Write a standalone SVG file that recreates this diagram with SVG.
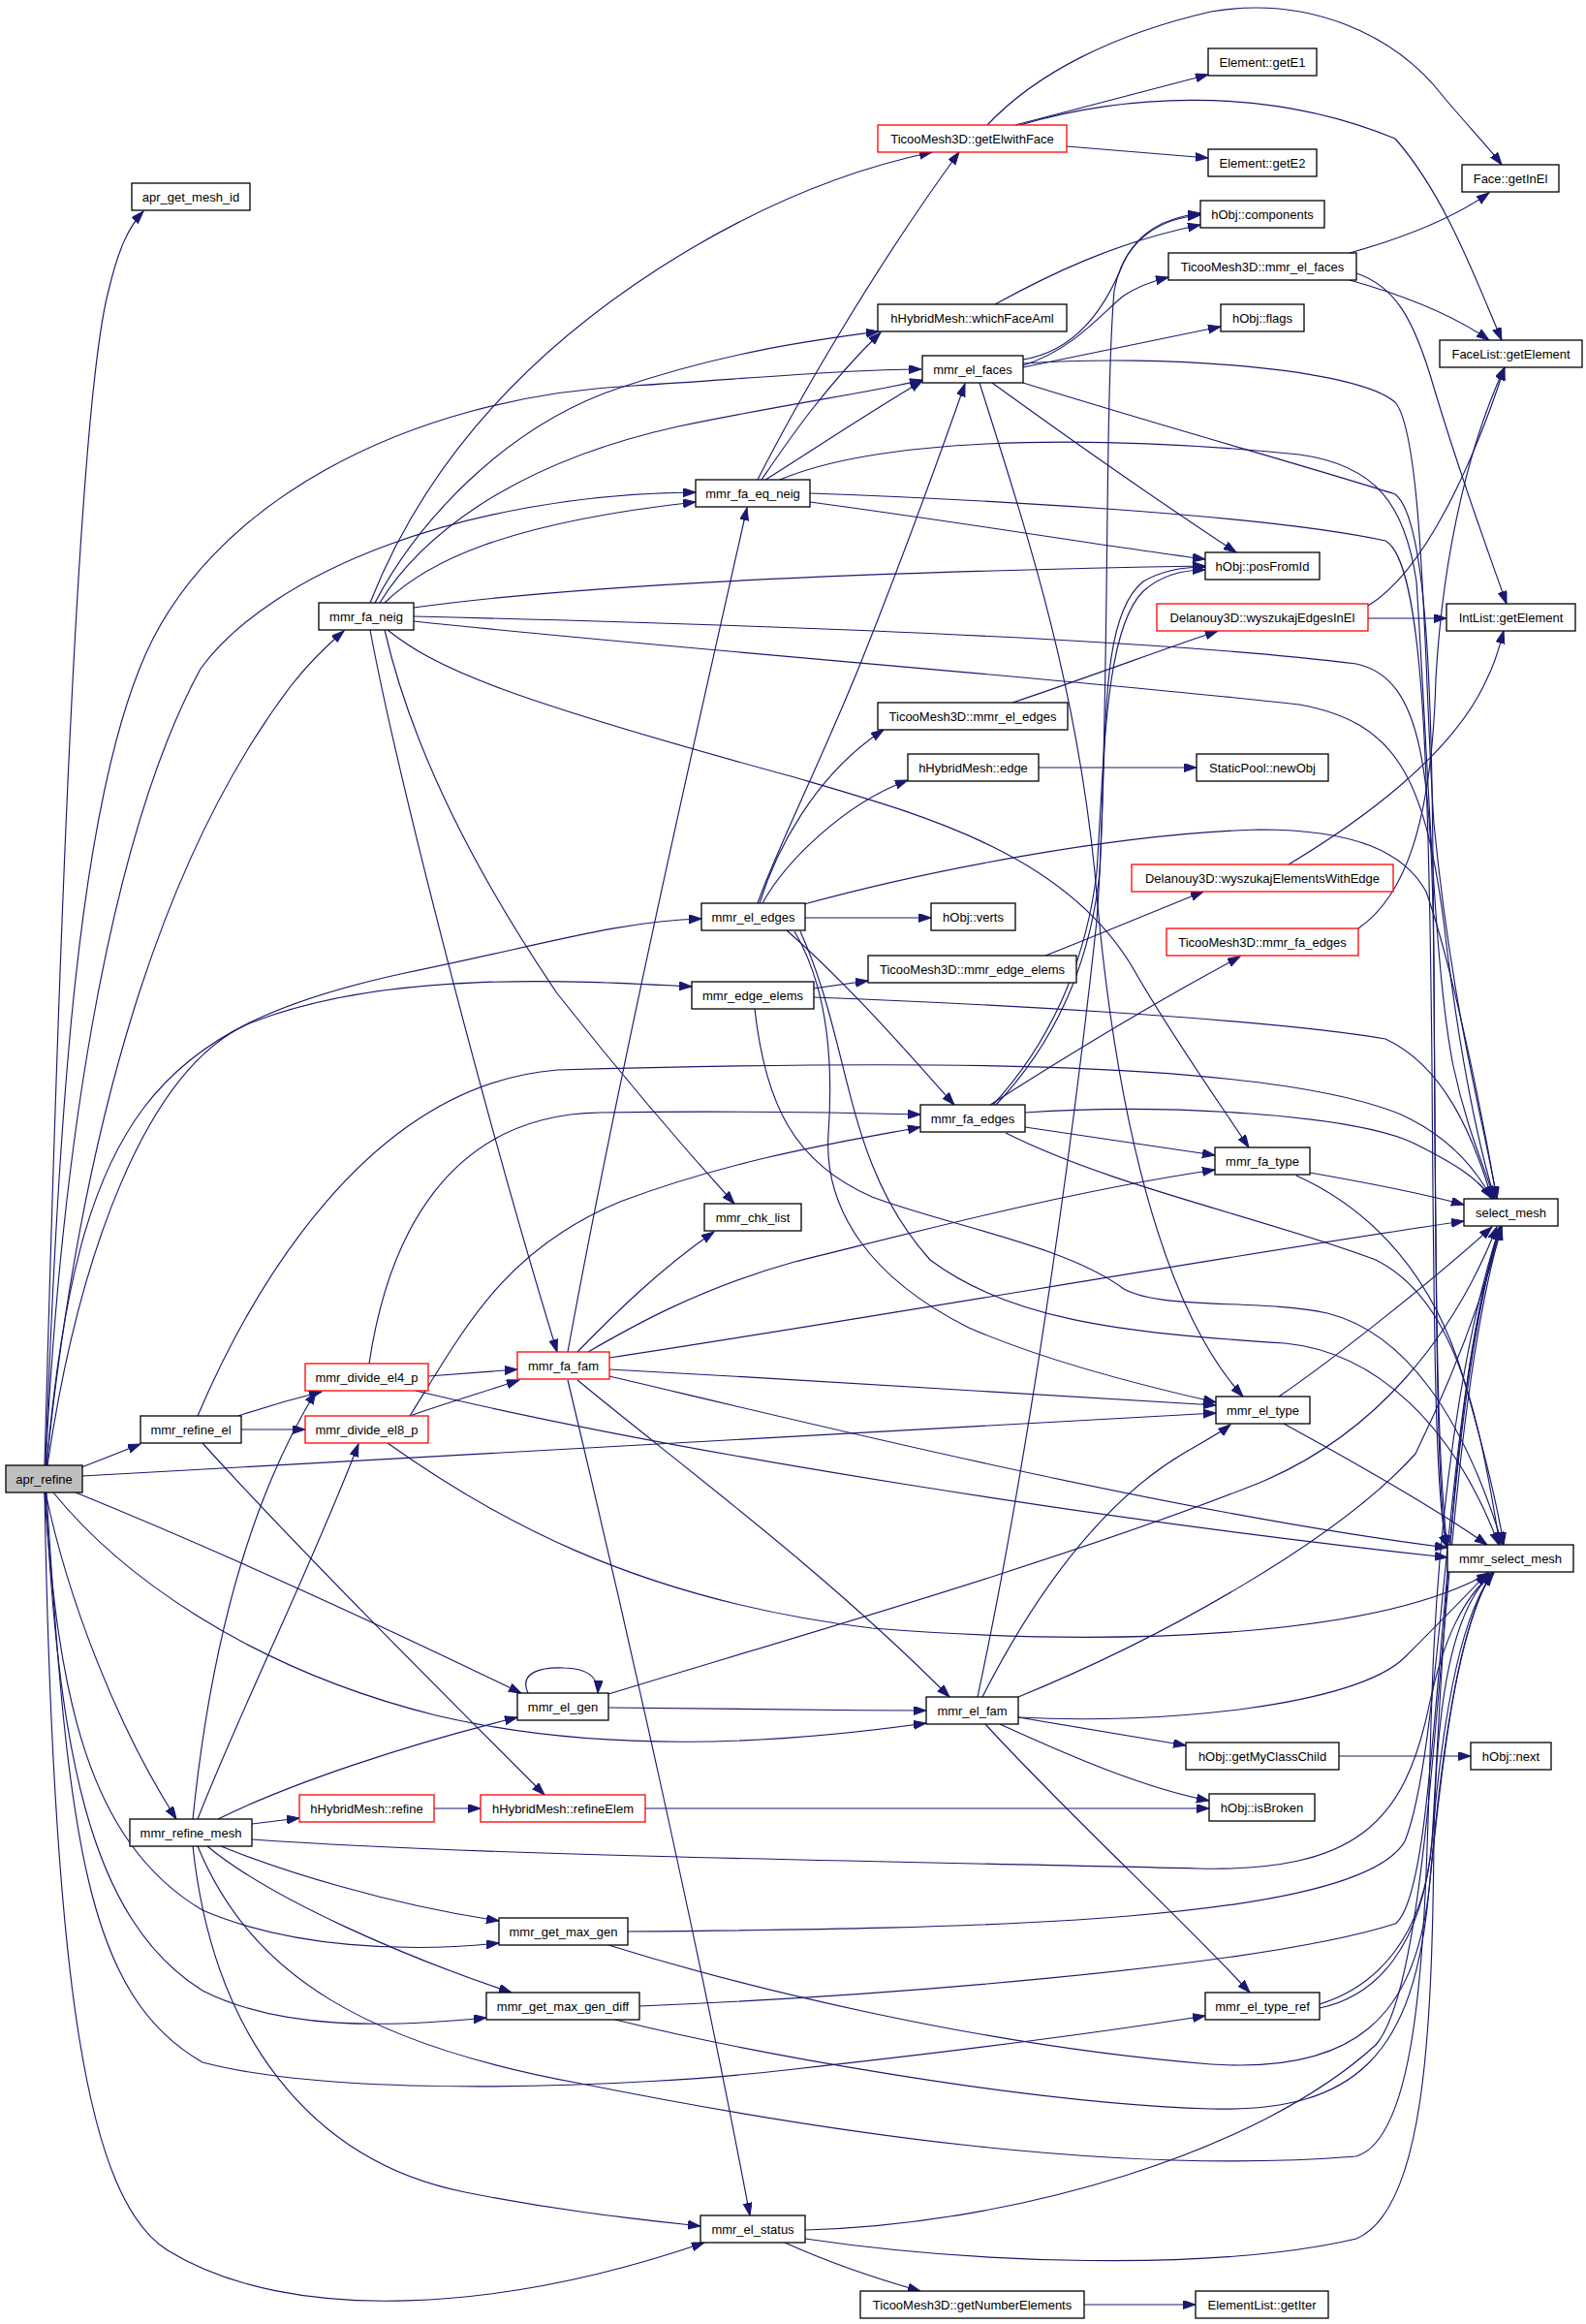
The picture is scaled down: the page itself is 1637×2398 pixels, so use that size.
<svg xmlns="http://www.w3.org/2000/svg" width="1637" height="2398" viewBox="0 0 1637 2398">
<defs>
<marker id="a" markerWidth="14" markerHeight="10" refX="13" refY="4.5" orient="auto" markerUnits="userSpaceOnUse"><path d="M0,0 L13,4.5 L0,9 z" fill="#191970" stroke="#191970" stroke-width="1"/></marker>
<style>
.n rect{fill:#fff;stroke:#000;stroke-width:1.3}
.r rect{stroke:#f00}
.g rect{fill:#bfbfbf}
text{font-family:"Liberation Sans",Arial,sans-serif;font-size:13px;text-anchor:middle;fill:#000}
#edges path{fill:none;stroke:#191970;stroke-width:1.15;marker-end:url(#a)}
</style>
</defs>
<rect width="1637" height="2398" fill="#fff"/>
<g id="edges">
<path d="M46,1512 C60,1000 80,420 112,300 C122,258 132,235 148,218"/>
<path d="M48,1512 C85,1150 170,880 300,708 C318,685 335,668 355,651"/>
<path d="M47,1512 C60,1150 80,850 144,690 C210,520 420,410 654,398 C780,390 880,381 951,381"/>
<path d="M47,1512 C65,1150 120,850 207,690 C280,590 480,510 718,508"/>
<path d="M48,1512 C80,1150 160,1060 418,1004 C560,975 640,950 724,948"/>
<path d="M49,1512 C80,1300 150,1100 260,1055 C400,1000 600,1012 714,1018"/>
<path d="M85,1523 L1255,1458"/>
<path d="M84,1514 C100,1508 120,1500 145,1490"/>
<path d="M78,1540 C250,1610 420,1690 538,1747"/>
<path d="M55,1540 C120,1620 250,1720 450,1770 C620,1810 800,1800 956,1778"/>
<path d="M47,1540 C70,1650 120,1780 182,1877"/>
<path d="M46,1540 C60,1750 90,1900 209,1971 C300,2010 420,2015 515,2005"/>
<path d="M47,1540 C60,1800 90,1980 209,2054 C290,2095 400,2092 502,2082"/>
<path d="M48,1540 C70,1900 90,2060 209,2128 C350,2165 650,2155 820,2135 C1000,2115 1150,2095 1244,2080"/>
<path d="M46,1540 C55,2050 90,2270 173,2322 C300,2400 520,2385 727,2314"/>
<path d="M246,1461 C270,1453 300,1444 332,1436"/>
<path d="M249,1475 L315,1475"/>
<path d="M204,1461 C260,1330 380,1120 575,1104 C900,1095 1300,1090 1446,1150 C1490,1170 1520,1200 1540,1237"/>
<path d="M209,1489 C300,1590 450,1740 562,1852"/>
<path d="M442,1420 L534,1413"/>
<path d="M381,1407 C400,1280 460,1150 620,1148 C750,1146 870,1148 950,1150"/>
<path d="M429,1435 C700,1500 1150,1570 1494,1607"/>
<path d="M423,1461 C460,1448 500,1436 536,1424"/>
<path d="M423,1461 C480,1370 520,1290 640,1240 C760,1195 870,1178 950,1163"/>
<path d="M400,1489 C500,1560 650,1650 900,1680 C1150,1700 1420,1690 1537,1623"/>
<path d="M199,1877 C215,1720 250,1560 326,1436"/>
<path d="M204,1877 C250,1760 320,1620 370,1490"/>
<path d="M225,1877 C300,1840 420,1800 534,1772"/>
<path d="M260,1882 L309,1876"/>
<path d="M260,1898 C500,1915 900,1920 1236,1928 C1400,1932 1450,1880 1475,1760 C1490,1690 1510,1650 1540,1623"/>
<path d="M228,1905 C290,1930 400,1965 515,1982"/>
<path d="M214,1905 C280,1960 420,2020 528,2056"/>
<path d="M204,1905 C260,2040 380,2110 600,2150 C850,2200 1150,2245 1400,2225 C1480,2200 1470,1900 1480,1700 C1490,1500 1520,1350 1548,1266"/>
<path d="M199,1905 C220,2100 320,2230 480,2262 C580,2282 660,2290 723,2297"/>
<path d="M545,1747 C535,1725 560,1720 582,1721 C605,1721 618,1730 617,1747"/>
<path d="M628,1762 C750,1763 850,1765 956,1765"/>
<path d="M628,1748 C800,1695 1100,1610 1300,1530 C1420,1480 1500,1380 1545,1266"/>
<path d="M1009,1751 C1050,1560 1100,1250 1132,950 C1145,780 1130,640 1180,600 C1200,588 1225,585 1244,585"/>
<path d="M1014,1751 C1050,1680 1120,1560 1221,1500 C1245,1486 1260,1478 1270,1470"/>
<path d="M1051,1751 C1200,1690 1380,1590 1461,1500 C1500,1420 1530,1340 1550,1266"/>
<path d="M1051,1772 C1200,1780 1400,1760 1450,1710 C1490,1670 1520,1640 1535,1623"/>
<path d="M1051,1772 L1224,1801"/>
<path d="M1032,1779 C1100,1810 1180,1845 1248,1858"/>
<path d="M1017,1779 C1100,1870 1220,1980 1290,2056"/>
<path d="M1382,1812 L1518,1812"/>
<path d="M448,1866 L496,1866"/>
<path d="M666,1866 L1248,1866"/>
<path d="M648,1993 C1000,1990 1400,1985 1450,1900 C1490,1800 1490,1450 1548,1266"/>
<path d="M628,2007 C750,2045 1000,2110 1250,2130 C1400,2140 1460,2080 1475,1950 C1490,1800 1505,1680 1540,1623"/>
<path d="M660,2070 C900,2060 1300,2030 1440,1985 C1490,1950 1480,1500 1548,1266"/>
<path d="M635,2084 C760,2115 1050,2170 1250,2176 C1400,2180 1460,2120 1475,1950 C1490,1780 1510,1670 1540,1623"/>
<path d="M1362,2068 C1420,2050 1470,2000 1478,1900 C1490,1700 1500,1400 1550,1266"/>
<path d="M1362,2072 C1420,2060 1468,2010 1478,1900 C1490,1760 1510,1660 1542,1623"/>
<path d="M831,2301 C1050,2295 1300,2220 1420,2110 C1490,2030 1480,1500 1550,1266"/>
<path d="M831,2310 C1000,2335 1250,2345 1400,2310 C1470,2280 1478,2100 1480,1900 C1482,1750 1500,1660 1540,1623"/>
<path d="M810,2314 C850,2332 900,2350 950,2364"/>
<path d="M1119,2378 L1234,2378"/>
<path d="M1320,1441 C1380,1400 1480,1320 1540,1266"/>
<path d="M1325,1469 C1400,1510 1480,1555 1535,1594"/>
<path d="M1352,1210 C1420,1222 1470,1232 1511,1243"/>
<path d="M1338,1213 C1420,1250 1480,1320 1510,1420 C1530,1490 1545,1550 1552,1594"/>
<path d="M1058,1148 C1200,1138 1400,1150 1460,1180 C1500,1200 1525,1215 1540,1237"/>
<path d="M1058,1163 L1254,1192"/>
<path d="M1038,1169 C1150,1225 1300,1255 1420,1300 C1500,1340 1525,1450 1548,1594"/>
<path d="M1022,1140 C1100,1090 1200,1030 1280,987"/>
<path d="M1025,1140 C1080,1080 1120,1000 1132,900 C1140,780 1140,650 1180,610 C1200,592 1225,588 1244,588"/>
<path d="M1028,1140 C1085,1080 1125,1000 1135,900 C1145,700 1140,420 1150,300 C1160,245 1200,225 1239,222"/>
<path d="M782,932 C800,880 850,780 890,680 C930,580 970,470 996,396"/>
<path d="M784,932 C800,880 840,800 912,753"/>
<path d="M787,932 C810,890 870,830 937,805"/>
<path d="M831,947 L961,947"/>
<path d="M830,933 C950,900 1150,860 1300,856 C1400,856 1450,880 1472,920 C1500,1000 1530,1150 1545,1237"/>
<path d="M812,960 C880,1020 940,1090 985,1140"/>
<path d="M820,961 C855,1020 860,1100 855,1170 C850,1250 900,1320 1000,1370 C1080,1405 1180,1430 1255,1447"/>
<path d="M826,961 C880,1080 870,1200 960,1300 C1040,1360 1150,1375 1326,1386 C1420,1395 1500,1470 1547,1594"/>
<path d="M839,1020 L896,1012"/>
<path d="M839,1029 C1000,1035 1300,1050 1430,1072 C1490,1100 1520,1170 1540,1237"/>
<path d="M779,1041 C790,1140 820,1200 900,1235 C980,1265 1100,1285 1160,1330 C1200,1352 1300,1340 1370,1355 C1450,1375 1510,1460 1551,1594"/>
<path d="M1056,371 C1110,362 1140,320 1160,270 C1175,240 1200,225 1239,220"/>
<path d="M1056,377 C1110,360 1140,320 1160,305 C1175,295 1190,290 1206,286"/>
<path d="M1056,379 L1260,337"/>
<path d="M1024,395 C1100,450 1200,520 1276,570"/>
<path d="M1056,375 C1200,365 1400,380 1440,415 C1470,450 1470,700 1480,850 C1500,1050 1530,1150 1545,1237"/>
<path d="M1056,395 C1200,440 1380,490 1440,510 C1480,540 1478,800 1480,1000 C1482,1300 1482,1560 1494,1597"/>
<path d="M1011,395 C1060,550 1110,700 1130,900 C1150,1150 1200,1350 1283,1441"/>
<path d="M782,495 C820,420 900,280 990,157"/>
<path d="M786,495 C810,460 850,400 909,343"/>
<path d="M790,495 C830,470 890,430 952,393"/>
<path d="M805,495 C900,455 1100,445 1341,469 C1420,480 1450,520 1462,600 C1475,800 1480,1000 1500,1100 C1515,1170 1535,1210 1542,1237"/>
<path d="M836,509 C1000,515 1300,530 1430,558 C1470,580 1475,800 1478,1100 C1480,1400 1482,1560 1494,1597"/>
<path d="M836,518 C1000,540 1150,565 1244,577"/>
<path d="M382,622 C430,500 520,380 680,277 C800,200 900,170 962,157"/>
<path d="M387,622 C430,540 520,440 640,400 C760,360 850,350 907,342"/>
<path d="M392,622 C430,560 520,480 700,440 C820,415 900,405 952,392"/>
<path d="M397,622 C440,580 520,540 718,518"/>
<path d="M427,627 C600,603 900,590 1244,584"/>
<path d="M427,636 C800,645 1200,660 1400,685 C1470,700 1478,800 1480,1000 C1482,1300 1482,1500 1494,1597"/>
<path d="M427,641 C700,670 1100,700 1341,727 C1440,745 1470,800 1490,950 C1505,1080 1525,1180 1543,1237"/>
<path d="M400,650 C450,690 520,720 820,802 C950,840 1100,880 1170,1000 C1210,1070 1260,1140 1289,1184"/>
<path d="M397,650 C420,750 470,870 575,1025 C650,1120 720,1200 758,1242"/>
<path d="M382,650 C410,800 500,1150 575,1395"/>
<path d="M586,1395 C640,1100 720,750 771,524"/>
<path d="M596,1395 C630,1360 680,1310 737,1271"/>
<path d="M607,1395 C650,1370 720,1330 820,1302 C950,1270 1100,1230 1254,1207"/>
<path d="M629,1401 C900,1360 1300,1290 1511,1260"/>
<path d="M629,1413 C850,1425 1100,1440 1255,1450"/>
<path d="M629,1420 C800,1460 1200,1560 1494,1597"/>
<path d="M596,1424 C700,1510 850,1620 980,1751"/>
<path d="M586,1424 C640,1650 720,2000 774,2286"/>
<path d="M1048,129 C1120,110 1190,92 1247,77"/>
<path d="M1101,151 L1247,163"/>
<path d="M1019,129 C1070,75 1150,35 1250,12 C1350,-5 1440,35 1490,100 C1515,130 1535,150 1550,170"/>
<path d="M1053,129 C1150,100 1300,85 1440,143 C1490,200 1520,280 1550,351"/>
<path d="M1027,314 C1080,285 1150,250 1239,232"/>
<path d="M1393,261 C1450,245 1500,225 1537,199"/>
<path d="M1393,289 C1450,305 1500,325 1537,351"/>
<path d="M1400,282 C1440,295 1460,330 1480,400 C1510,500 1540,580 1555,623"/>
<path d="M1412,638 L1493,638"/>
<path d="M1412,625 C1470,590 1520,480 1553,379"/>
<path d="M1330,892 C1400,850 1500,780 1535,700 C1545,680 1548,665 1552,651"/>
<path d="M1402,958 C1450,925 1478,850 1482,700 C1490,560 1520,450 1553,379"/>
<path d="M1072,792 L1235,792"/>
<path d="M1045,725 C1120,700 1200,670 1257,651"/>
<path d="M1079,986 C1120,970 1180,945 1242,920"/>
</g>
<g id="n_apr_refine" class="n g"><rect x="6" y="1512" width="79" height="28"/><text x="45.5" y="1531">apr_refine</text></g>
<g id="n_apr_get_mesh_id" class="n"><rect x="136" y="189" width="122" height="28"/><text x="197" y="208">apr_get_mesh_id</text></g>
<g id="n_mmr_fa_neig" class="n"><rect x="329" y="622" width="98" height="28"/><text x="378" y="641">mmr_fa_neig</text></g>
<g id="n_mmr_refine_el" class="n"><rect x="145" y="1461" width="104" height="28"/><text x="197" y="1480">mmr_refine_el</text></g>
<g id="n_mmr_refine_mesh" class="n"><rect x="134" y="1877" width="126" height="28"/><text x="197" y="1896">mmr_refine_mesh</text></g>
<g id="n_mmr_divide_el4_p" class="n r"><rect x="315" y="1407" width="127" height="28"/><text x="378.5" y="1426">mmr_divide_el4_p</text></g>
<g id="n_mmr_divide_el8_p" class="n r"><rect x="315" y="1461" width="127" height="28"/><text x="378.5" y="1480">mmr_divide_el8_p</text></g>
<g id="n_hHybridMesh_refine" class="n r"><rect x="309" y="1852" width="139" height="28"/><text x="378.5" y="1871">hHybridMesh::refine</text></g>
<g id="n_mmr_fa_fam" class="n r"><rect x="534" y="1395" width="95" height="28"/><text x="581.5" y="1414">mmr_fa_fam</text></g>
<g id="n_mmr_el_gen" class="n"><rect x="534" y="1747" width="94" height="28"/><text x="581" y="1766">mmr_el_gen</text></g>
<g id="n_hHybridMesh_refineElem" class="n r"><rect x="496" y="1852" width="170" height="28"/><text x="581" y="1871">hHybridMesh::refineElem</text></g>
<g id="n_mmr_get_max_gen" class="n"><rect x="515" y="1979" width="133" height="28"/><text x="581.5" y="1998">mmr_get_max_gen</text></g>
<g id="n_mmr_get_max_gen_diff" class="n"><rect x="502" y="2056" width="158" height="28"/><text x="581" y="2075">mmr_get_max_gen_diff</text></g>
<g id="n_mmr_fa_eq_neig" class="n"><rect x="718" y="495" width="118" height="28"/><text x="777" y="514">mmr_fa_eq_neig</text></g>
<g id="n_mmr_el_edges" class="n"><rect x="724" y="932" width="107" height="28"/><text x="777.5" y="951">mmr_el_edges</text></g>
<g id="n_mmr_edge_elems" class="n"><rect x="714" y="1013" width="126" height="28"/><text x="777" y="1032">mmr_edge_elems</text></g>
<g id="n_mmr_chk_list" class="n"><rect x="727" y="1242" width="100" height="28"/><text x="777" y="1261">mmr_chk_list</text></g>
<g id="n_mmr_el_status" class="n"><rect x="723" y="2286" width="108" height="28"/><text x="777" y="2305">mmr_el_status</text></g>
<g id="n_getElwithFace" class="n r"><rect x="906" y="129" width="195" height="28"/><text x="1003.5" y="148">TicooMesh3D::getElwithFace</text></g>
<g id="n_whichFaceAml" class="n"><rect x="906" y="314" width="195" height="28"/><text x="1003.5" y="333">hHybridMesh::whichFaceAml</text></g>
<g id="n_mmr_el_faces" class="n"><rect x="952" y="367" width="104" height="28"/><text x="1004" y="386">mmr_el_faces</text></g>
<g id="n_T_mmr_el_edges" class="n"><rect x="906" y="725" width="196" height="28"/><text x="1004" y="744">TicooMesh3D::mmr_el_edges</text></g>
<g id="n_hHybridMesh_edge" class="n"><rect x="937" y="778" width="135" height="28"/><text x="1004.5" y="797">hHybridMesh::edge</text></g>
<g id="n_hObj_verts" class="n"><rect x="961" y="932" width="87" height="28"/><text x="1004.5" y="951">hObj::verts</text></g>
<g id="n_T_mmr_edge_elems" class="n"><rect x="896" y="986" width="215" height="28"/><text x="1003.5" y="1005">TicooMesh3D::mmr_edge_elems</text></g>
<g id="n_mmr_fa_edges" class="n"><rect x="950" y="1140" width="108" height="28"/><text x="1004" y="1159">mmr_fa_edges</text></g>
<g id="n_mmr_el_fam" class="n"><rect x="956" y="1751" width="95" height="28"/><text x="1003.5" y="1770">mmr_el_fam</text></g>
<g id="n_getNumberElements" class="n"><rect x="888" y="2364" width="231" height="28"/><text x="1003.5" y="2383">TicooMesh3D::getNumberElements</text></g>
<g id="n_getE1" class="n"><rect x="1247" y="50" width="112" height="28"/><text x="1303" y="69">Element::getE1</text></g>
<g id="n_getE2" class="n"><rect x="1247" y="154" width="112" height="28"/><text x="1303" y="173">Element::getE2</text></g>
<g id="n_components" class="n"><rect x="1239" y="207" width="128" height="28"/><text x="1303" y="226">hObj::components</text></g>
<g id="n_T_mmr_el_faces" class="n"><rect x="1206" y="261" width="194" height="28"/><text x="1303" y="280">TicooMesh3D::mmr_el_faces</text></g>
<g id="n_flags" class="n"><rect x="1260" y="314" width="86" height="28"/><text x="1303" y="333">hObj::flags</text></g>
<g id="n_posFromId" class="n"><rect x="1244" y="570" width="118" height="28"/><text x="1303" y="589">hObj::posFromId</text></g>
<g id="n_wyszukajEdgesInEl" class="n r"><rect x="1194" y="623" width="218" height="28"/><text x="1303" y="642">Delanouy3D::wyszukajEdgesInEl</text></g>
<g id="n_newObj" class="n"><rect x="1235" y="778" width="136" height="28"/><text x="1303" y="797">StaticPool::newObj</text></g>
<g id="n_wyszukajElementsWithEdge" class="n r"><rect x="1168" y="892" width="270" height="28"/><text x="1303" y="911">Delanouy3D::wyszukajElementsWithEdge</text></g>
<g id="n_T_mmr_fa_edges" class="n r"><rect x="1204" y="958" width="198" height="28"/><text x="1303" y="977">TicooMesh3D::mmr_fa_edges</text></g>
<g id="n_mmr_fa_type" class="n"><rect x="1254" y="1184" width="98" height="28"/><text x="1303" y="1203">mmr_fa_type</text></g>
<g id="n_mmr_el_type" class="n"><rect x="1255" y="1441" width="97" height="28"/><text x="1303.5" y="1460">mmr_el_type</text></g>
<g id="n_getMyClassChild" class="n"><rect x="1224" y="1798" width="158" height="28"/><text x="1303" y="1817">hObj::getMyClassChild</text></g>
<g id="n_isBroken" class="n"><rect x="1248" y="1851" width="109" height="28"/><text x="1302.5" y="1870">hObj::isBroken</text></g>
<g id="n_mmr_el_type_ref" class="n"><rect x="1244" y="2056" width="118" height="28"/><text x="1303" y="2075">mmr_el_type_ref</text></g>
<g id="n_getIter" class="n"><rect x="1234" y="2364" width="137" height="28"/><text x="1302.5" y="2383">ElementList::getIter</text></g>
<g id="n_getInEl" class="n"><rect x="1509" y="170" width="100" height="28"/><text x="1559" y="189">Face::getInEl</text></g>
<g id="n_FaceList_getElement" class="n"><rect x="1486" y="351" width="147" height="28"/><text x="1559.5" y="370">FaceList::getElement</text></g>
<g id="n_IntList_getElement" class="n"><rect x="1493" y="623" width="133" height="28"/><text x="1559.5" y="642">IntList::getElement</text></g>
<g id="n_select_mesh" class="n"><rect x="1511" y="1237" width="97" height="28"/><text x="1559.5" y="1256">select_mesh</text></g>
<g id="n_mmr_select_mesh" class="n"><rect x="1494" y="1594" width="130" height="28"/><text x="1559" y="1613">mmr_select_mesh</text></g>
<g id="n_next" class="n"><rect x="1518" y="1798" width="83" height="28"/><text x="1559.5" y="1817">hObj::next</text></g>
</svg>
